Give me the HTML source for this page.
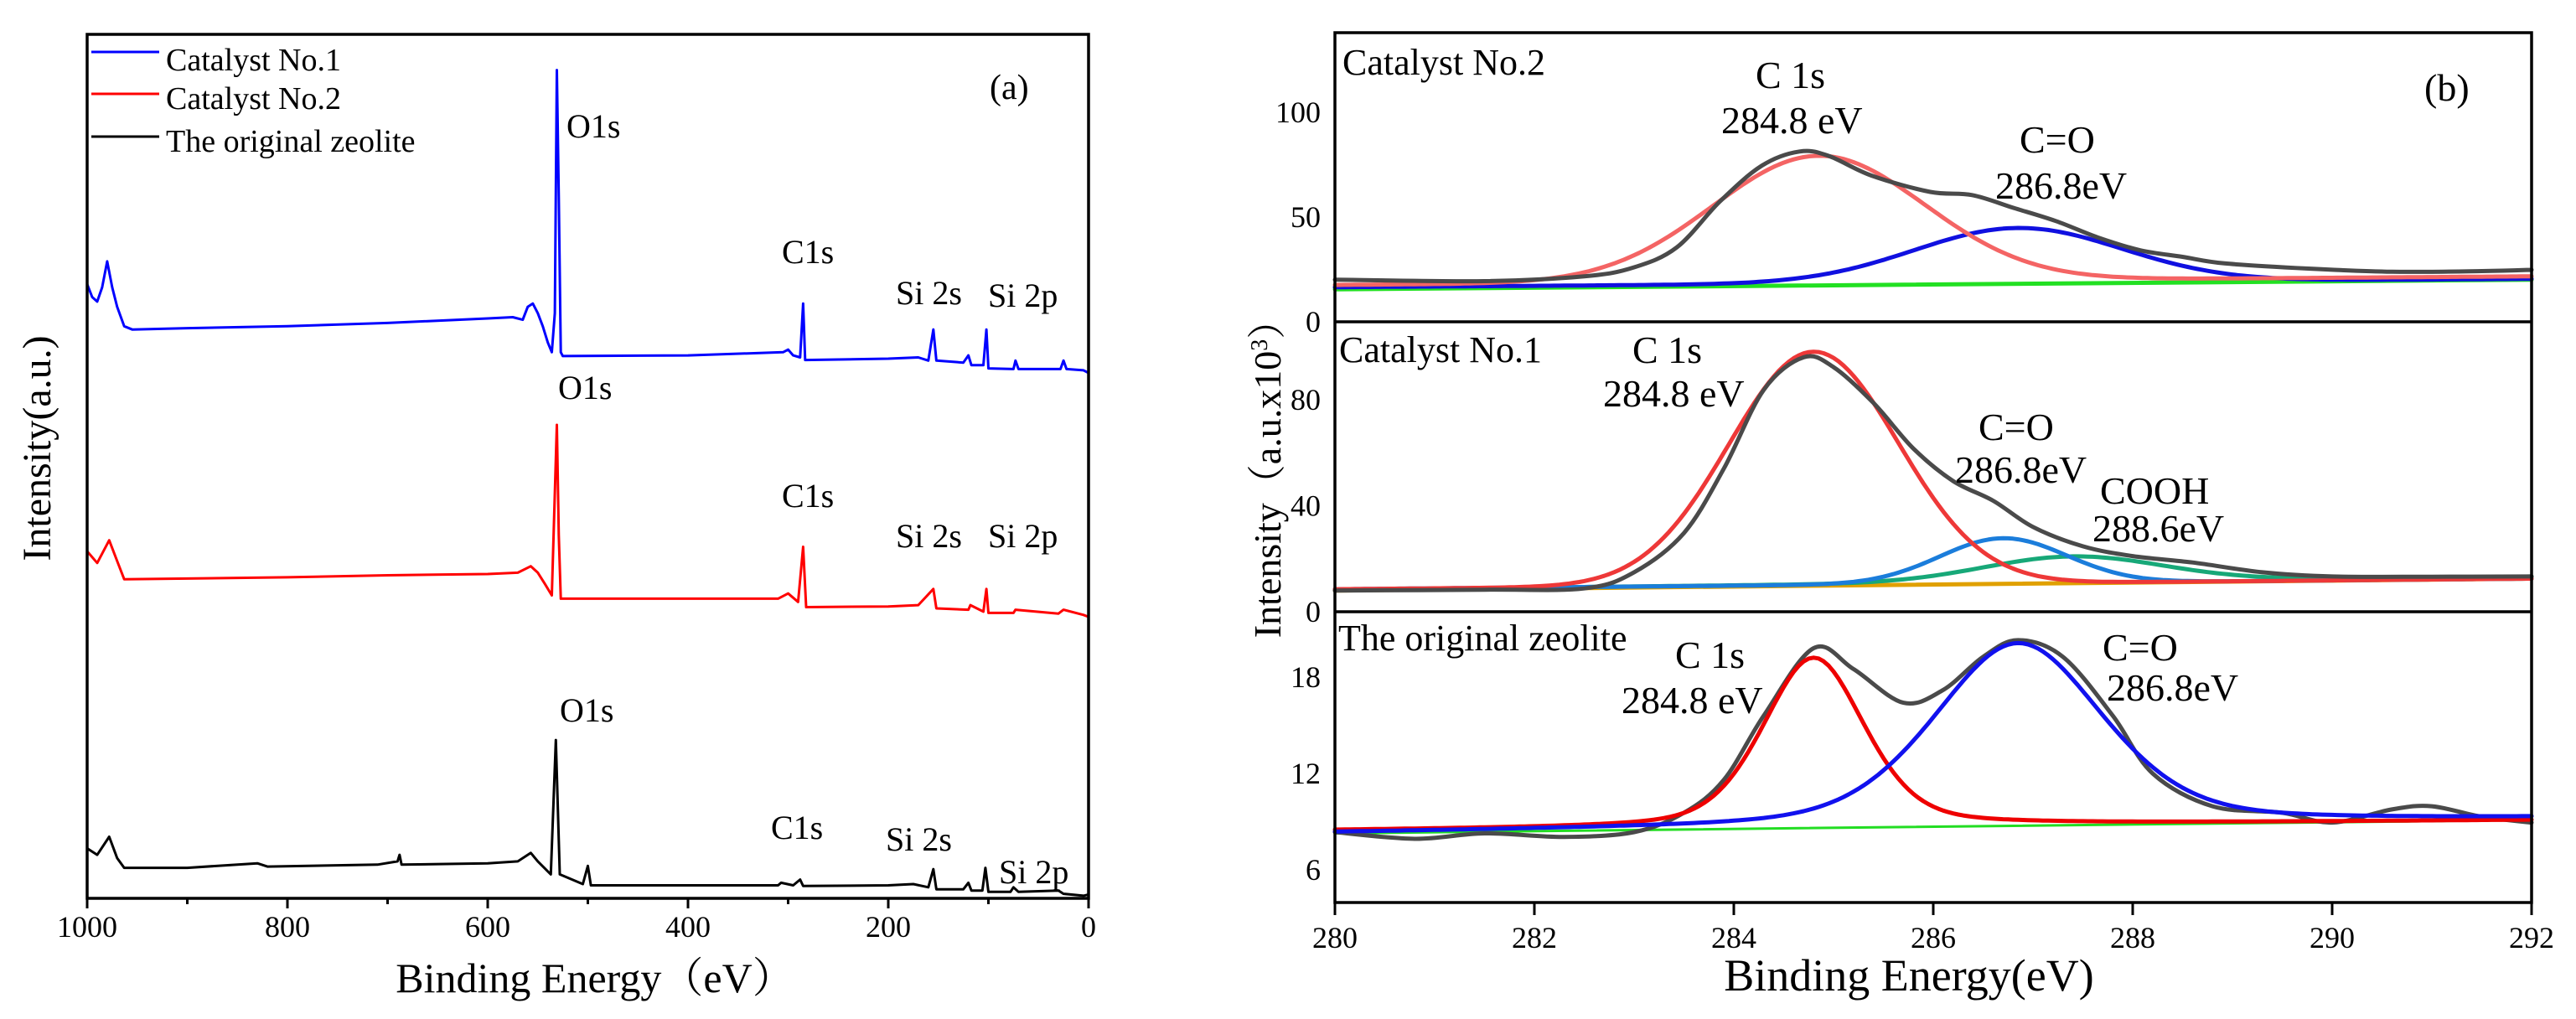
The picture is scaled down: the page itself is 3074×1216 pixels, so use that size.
<!DOCTYPE html>
<html><head><meta charset="utf-8"><style>
html,body{margin:0;padding:0;background:#fff;}
svg{display:block;}
svg text{font-family:"Liberation Serif","Noto Serif CJK SC",serif;}
</style></head><body>
<svg id="fig" width="3074" height="1216" viewBox="0 0 3074 1216" font-family="Liberation Serif, serif">
<rect x="0" y="0" width="3074" height="1216" fill="#fff"/>
<g id="left"></g>
<g id="right"></g>
</svg>
<script>
// ---------- Panel (a) survey data ----------
const surveyTicks = [1000, 800, 600, 400, 200, 0];
const blueE = [1000,995,990,985,980,975,970,963,955,900,800,700,600,575,565,560,555,550,545,540,536,533,531,529,527,525,400,305,300,295,288,285,283,200,170,160,155,152,125,120,117,105,102,100,75,73,70,28,25,22,5,0];
const blueI = [947,927,920,942,982,942,912,882,877,879,882,887,894,896,892,912,917,902,882,857,842,902,1277,1082,842,836,837,842,846,837,834,917,830,832,834,829,877,829,826,837,822,822,877,817,816,829,816,816,829,816,814,810];
const redE = [1000,990,978,970,963,900,800,700,600,570,557,550,543,536,531,529,527,400,310,300,290,285,282,200,170,155,152,120,118,105,102,100,75,73,30,25,5,0];
const redI = [535,517,552,520,492,493,495,498,500,502,512,502,485,467,730,560,462,462,462,470,457,542,449,450,452,477,447,445,452,442,477,440,440,445,439,445,437,434];
const blackE = [1000,990,978,970,963,900,830,820,710,690,688,686,600,570,557,550,537,532,528,505,500,497,310,307,295,288,285,200,175,160,155,152,125,120,117,106,103,100,78,75,70,30,25,5,0];
const blackI = [77,67,95,62,47,47,54,49,52,57,67,52,54,57,70,57,37,244,37,22,50,20,20,24,20,29,19,20,22,17,45,14,14,24,12,12,47,10,10,17,10,12,7,4,6];
const surveyLabels = [
 ["O1s",676,164],["C1s",933,314],["Si 2s",1069,363],["Si 2p",1179,366],
 ["O1s",666,476],["C1s",933,605],["Si 2s",1069,653],["Si 2p",1179,653],
 ["O1s",668,861],["C1s",920,1001],["Si 2s",1057,1015],["Si 2p",1192,1054]
];

// ---------- Panel (b) C1s data ----------
const bTicks = [280,282,284,286,288,290,292];
const p1Ticks = [0,50,100];
const p2Ticks = [0,40,80];
const p3Ticks = [6,12,18];
const g1E = [280,281.5,282.5,283,283.43,283.86,284.28,284.66,284.95,285.38,285.97,286.39,286.81,287.23,287.65,288.08,288.5,288.92,289.76,290.6,291.5,292];
const g1I = [20.1,19.4,21.7,26,35.6,57.4,74.5,81.3,79.2,69.8,62,60.5,54.3,48.1,40.3,34.1,31,27.9,25.4,23.9,24.2,24.8];
const g2E = [280,281.5,282.5,283,283.5,283.9,284.3,284.7,285,285.4,285.8,286.2,286.6,287,287.5,288,288.6,289.3,290,291,292];
const g2I = [8,8.3,8.8,14.9,29.7,54,83.7,96,92.3,78.8,61.6,49.3,41.9,32,24.7,21,18.6,14.9,13.3,13.2,13.3];
const g3E = [280,280.8,281.5,282.3,283,283.5,283.9,284.3,284.8,285.2,285.7,286.1,286.5,286.85,287.3,287.8,288.2,288.8,289.5,290,290.6,291,291.5,292];
const g3I = [8.35,7.93,8.27,8.05,8.35,9.55,11.6,15.6,19.8,18.5,16.4,17.2,19.26,20.3,19.26,15.6,12,9.96,9.55,8.94,9.76,9.96,9.3,8.94];
const p1Centers = [284.85, 286.85];
const p1Amps = [60, 26];
const p1Fwhm = [2.5, 2.45];
const p1Base0 = [17.6, 16.5];
const p1Base1 = [21.7, 20.5];
const p1Bg = [15.5, 20.1];
const p2Centers = [284.8, 286.7, 287.4];
const p2Amps = [88, 17, 9.5];
const p2Fwhm = [2.0, 1.5, 2.1];
const p2Base0 = [8.5, 8.5, 8.3];
const p2Base1 = [12.5, 12.5, 13.3];
const p2Bg = [8, 12.5];
const p3Centers = [284.8, 286.85];
const p3Amps = [10.5, 11.3];
const p3Fwhm = [1.2, 2.0];
const p3Eta = [0.35, 0.35];
const p3Base0 = [8.45, 8.3];
const p3Base1 = [9.1, 9.2];
const p3Bg = [8.27, 9.1];

const NS = "http://www.w3.org/2000/svg";
const SERIF = '"Liberation Serif", "Noto Serif CJK SC", serif';
function mk(parent, tag, attrs, text){
  const e = document.createElementNS(NS, tag);
  for (const k in attrs) e.setAttribute(k, attrs[k]);
  if (tag === "text") e.style.fontFamily = SERIF;
  if (text !== undefined) e.textContent = text;
  parent.appendChild(e);
  return e;
}
function polyPath(xs, ys){
  let d = "";
  for (let i=0;i<xs.length;i++) d += (i?"L":"M") + xs[i].toFixed(1) + "," + ys[i].toFixed(1);
  return d;
}
function smoothPath(xs, ys){
  let d = "M"+xs[0].toFixed(1)+","+ys[0].toFixed(1);
  for (let i=0;i<xs.length-1;i++){
    const x0=xs[Math.max(0,i-1)], y0=ys[Math.max(0,i-1)];
    const x1=xs[i], y1=ys[i], x2=xs[i+1], y2=ys[i+1];
    const x3=xs[Math.min(xs.length-1,i+2)], y3=ys[Math.min(xs.length-1,i+2)];
    const c1x=x1+(x2-x0)/6, c1y=y1+(y2-y0)/6, c2x=x2-(x3-x1)/6, c2y=y2-(y3-y1)/6;
    d += "C"+c1x.toFixed(1)+","+c1y.toFixed(1)+" "+c2x.toFixed(1)+","+c2y.toFixed(1)+" "+x2.toFixed(1)+","+y2.toFixed(1);
  }
  return d;
}

// ---------- draw panel (a) ----------
const L = document.getElementById("left");
const aX0=104, aX1=1299, aTop=41, aBot=1072;
const ax = e => aX0 + (1000 - e) / 1000 * (aX1 - aX0);
const ay = v => aBot - v * (aBot - aTop) / 1332;
const series = [[blueE, blueI, "#0000ff", "series-catalyst-no1"],[redE, redI, "#ff0000", "series-catalyst-no2"],[blackE, blackI, "#000000", "series-original-zeolite"]];
series.forEach(s=>{
  const p = mk(L, "path", {d: polyPath(s[0].map(ax), s[1].map(ay)), fill:"none", stroke:s[2], "stroke-width":3, "stroke-linejoin":"round"});
  
  
});
mk(L,"rect",{x:aX0,y:aTop,width:aX1-aX0,height:aBot-aTop,fill:"none",stroke:"#000","stroke-width":3.5,});
for (let e=1000;e>=0;e-=100){
  const major = e % 200 === 0;
  mk(L,"line",{x1:ax(e),x2:ax(e),y1:aBot,y2:aBot+(major?12:7),stroke:"#000","stroke-width":3,});
}
surveyTicks.forEach(t=>{
  const tx = mk(L,"text",{x:ax(t),y:1118,"font-size":36,"text-anchor":"middle"}, String(t));
  
  
});
mk(L,"text",{x:710,y:1184,"font-size":50,"text-anchor":"middle",},"Binding Energy（eV）");
mk(L,"text",{x:0,y:0,"font-size":48,"text-anchor":"middle",transform:"translate(60,535) rotate(-90)",},"Intensity(a.u.)");
const legend = [["#0000ff","Catalyst No.1",62,78],["#ff0000","Catalyst No.2",112,124],["#000000","The original zeolite",163,175]];
legend.forEach((lg,i)=>{
  const g = mk(L,"g",{});
  mk(g,"line",{x1:109,x2:190,y1:lg[2],y2:lg[2],stroke:lg[0],"stroke-width":3,});
  mk(g,"text",{x:198,y:lg[3]+6,"font-size":38,},lg[1]);
});
mk(L,"text",{x:1181,y:118,"font-size":42,},"(a)");
surveyLabels.forEach(l=>{
  const t = mk(L,"text",{x:l[1],y:l[2],"font-size":40},l[0]);
  
  
});

// ---------- draw panel (b) ----------
const R = document.getElementById("right");
const bX0=1593, bX1=3021, bTop=39, d1=384, d2=730, bBot=1077;
const bx = e => bX0 + (e-280)/12*(bX1-bX0);
const y1 = v => d1 - v*2.5;
const y2 = v => d2 - v*3.163;
const y3 = v => 1038 - (v-6)*19.17;
function pv(x,c,A,w,eta){
  const g = Math.exp(-4*Math.LN2*Math.pow((x-c)/w,2));
  const l = 1/(1+4*Math.pow((x-c)/w,2));
  return A*((1-eta)*g + eta*l);
}
function comp(c,A,w,eta,b0,b1,yf){
  const xs=[], ys=[];
  for (let e=280;e<=292.0001;e+=0.05){
    xs.push(bx(e)); ys.push(yf(b0+(b1-b0)*(e-280)/12 + pv(e,c,A,w,eta)));
  }
  return polyPath(xs,ys);
}
function line2(b,yf){ return "M"+bx(280)+","+yf(b[0])+"L"+bx(292)+","+yf(b[1]); }
function addPath(d, color, w, name){
  const p = mk(R,"path",{d:d,fill:"none",stroke:color,"stroke-width":w,"stroke-linejoin":"round","stroke-linecap":"round"});
  
  
}
addPath(line2(p1Bg,y1),"#22e022",5,"background-line-no2");
addPath(comp(p1Centers[1],p1Amps[1],p1Fwhm[1],0,p1Base0[1],p1Base1[1],y1),"#1010e0",5,"co-fit-no2");
addPath(comp(p1Centers[0],p1Amps[0],p1Fwhm[0],0,p1Base0[0],p1Base1[0],y1),"#f46464",5,"c1s-fit-no2");
addPath(smoothPath(g1E.map(bx), g1I.map(y1)),"#4a4a4a",5,"envelope-no2");
addPath(line2(p2Bg,y2),"#e0a000",5,"background-line-no1");
addPath(comp(p2Centers[2],p2Amps[2],p2Fwhm[2],0,p2Base0[2],p2Base1[2],y2),"#17a878",5,"cooh-fit-no1");
addPath(comp(p2Centers[1],p2Amps[1],p2Fwhm[1],0,p2Base0[1],p2Base1[1],y2),"#1b7ddb",5,"co-fit-no1");
addPath(comp(p2Centers[0],p2Amps[0],p2Fwhm[0],0,p2Base0[0],p2Base1[0],y2),"#ee3838",5,"c1s-fit-no1");
addPath(smoothPath(g2E.map(bx), g2I.map(y2)),"#4a4a4a",5,"envelope-no1");
addPath(line2(p3Bg,y3),"#22dd22",3,"background-line-zeolite");
addPath(smoothPath(g3E.map(bx), g3I.map(y3)),"#4a4a4a",5,"envelope-zeolite");
addPath(comp(p3Centers[0],p3Amps[0],p3Fwhm[0],p3Eta[0],p3Base0[0],p3Base1[0],y3),"#ee0000",5,"c1s-fit-zeolite");
addPath(comp(p3Centers[1],p3Amps[1],p3Fwhm[1],p3Eta[1],p3Base0[1],p3Base1[1],y3),"#1111ee",5,"co-fit-zeolite");

mk(R,"rect",{x:bX0,y:bTop,width:bX1-bX0,height:bBot-bTop,fill:"none",stroke:"#000","stroke-width":3.5,});
mk(R,"line",{x1:bX0,x2:bX1,y1:d1,y2:d1,stroke:"#000","stroke-width":3.5,});
mk(R,"line",{x1:bX0,x2:bX1,y1:d2,y2:d2,stroke:"#000","stroke-width":3.5,});
bTicks.forEach(t=>{
  mk(R,"line",{x1:bx(t),x2:bx(t),y1:bBot,y2:bBot+15,stroke:"#000","stroke-width":3,});
  const tx = mk(R,"text",{x:bx(t),y:1131,"font-size":36,"text-anchor":"middle"},String(t));
  
  
});
[[p1Ticks,y1],[p2Ticks,y2],[p3Ticks,y3]].forEach(pt=>{
  pt[0].forEach(t=>{
    const tx = mk(R,"text",{x:1576,y:pt[1](t)+12,"font-size":36,"text-anchor":"end"},String(t));
    
    
  });
});
mk(R,"text",{x:2278,y:1182,"font-size":54,"text-anchor":"middle",},"Binding Energy(eV)");
const yt = mk(R,"text",{x:0,y:0,"font-size":46,"text-anchor":"middle",transform:"translate(1528,560) rotate(-90)",});
yt.appendChild(document.createTextNode("Intensity（a.u.x10"));
mk(yt,"tspan",{"font-size":28,dy:-16},"3");
mk(yt,"tspan",{dy:16},"）");
const bLabels = [
 ["Catalyst No.2",1602,89,"sample-label"],["(b)",2893,120,"panel-label-b"],
 ["C 1s",2095,105,"peak-label"],["284.8 eV",2054,159,"peak-label"],["C=O",2410,182,"peak-label"],["286.8eV",2381,237,"peak-label"],
 ["Catalyst No.1",1598,432,"sample-label"],["C 1s",1948,433,"peak-label"],["284.8 eV",1913,485,"peak-label"],
 ["C=O",2361,525,"peak-label"],["286.8eV",2333,576,"peak-label"],["COOH",2506,601,"peak-label"],["288.6eV",2497,646,"peak-label"],
 ["The original zeolite",1597,776,"sample-label"],["C 1s",1999,797,"peak-label"],["284.8 eV",1935,851,"peak-label"],
 ["C=O",2509,788,"peak-label"],["286.8eV",2514,836,"peak-label"]
];
bLabels.forEach(l=>{
  const t = mk(R,"text",{x:l[1],y:l[2],"font-size":l[3]==="sample-label"?44:46},l[0]);
  
  
});
</script>
</body></html>
